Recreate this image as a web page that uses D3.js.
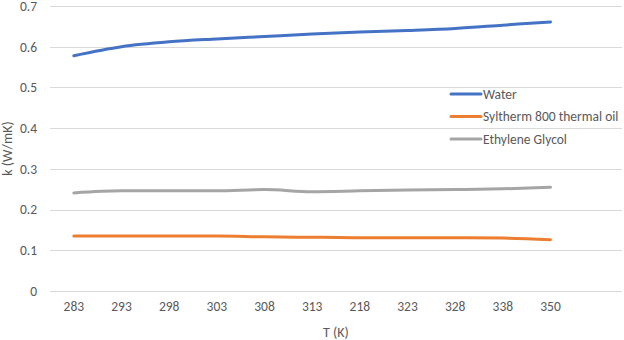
<!DOCTYPE html>
<html>
<head>
    <title>Thermal conductivity</title>
    <script src="https://cdnjs.cloudflare.com/ajax/libs/d3/7.8.5/d3.min.js"></script>
    <style>
    body { margin:0; background:#fff; }
    svg text { font-family:Carlito, Calibri, "Liberation Sans", sans-serif; fill:#595959; }
    </style>
</head>
<body>
<div class="chart"></div>
<script>
// category labels (the 12th slot is left empty, as in the original sheet)
var temps = ['283','293','298','303','308','313','218','323','328','338','350',''];

var water    = [0.578,0.600,0.612,0.619,0.625,0.631,0.636,0.640,0.645,0.653,0.661];
var syltherm = [0.135,0.135,0.135,0.135,0.133,0.132,0.131,0.131,0.131,0.130,0.126];
var glycol   = [0.241,0.246,0.246,0.246,0.249,0.244,0.246,0.248,0.249,0.251,0.255];

var yTicks = [0,0.1,0.2,0.3,0.4,0.5,0.6,0.7];

var seriesNames  = ['Water','Syltherm 800 thermal oil','Ethylene Glycol'];
var seriesColors = ['#4472C4','#ED7D31','#A5A5A5'];

var width = 624, height = 340;
var plotLeft = 50, plotRight = 622, plotTop = 6, plotBottom = 291;

var svg = d3.select('.chart').append('svg')
    .attr('width', width)
    .attr('height', height);

var x = d3.scaleBand().domain(d3.range(temps.length)).range([plotLeft, plotRight]);
var y = d3.scaleLinear().domain([0, 0.7]).range([plotBottom, plotTop]);

// gridlines
svg.append('g')
    .selectAll('line')
    .data(yTicks)
    .enter().append('line')
    .attr('x1', plotLeft).attr('x2', plotRight)
    .attr('y1', function(d) { return Math.round(y(d)) + 0.5; })
    .attr('y2', function(d) { return Math.round(y(d)) + 0.5; })
    .attr('stroke', '#D9D9D9')
    .attr('stroke-width', 1);

// y axis labels
var yAxis = svg.append('g')
    .attr('transform', 'translate(' + plotLeft + ',0)')
    .call(d3.axisLeft(y).tickValues(yTicks).tickSize(0).tickPadding(13)
        .tickFormat(function(d) { return d3.format('')(+d.toFixed(1)); }));
yAxis.select('.domain').remove();
yAxis.selectAll('text').style('font-size', '13.5px');

// x axis labels
var xAxis = svg.append('g')
    .attr('transform', 'translate(0,' + plotBottom + ')')
    .call(d3.axisBottom(x).tickSize(0).tickPadding(10)
        .tickFormat(function(i) { return temps[i]; }));
xAxis.select('.domain').remove();
xAxis.selectAll('text').style('font-size', '13.5px');

// axis titles
svg.append('text')
    .attr('x', (plotLeft + plotRight) / 2)
    .attr('y', 337)
    .attr('text-anchor', 'middle')
    .style('font-size', '14px')
    .text('T (K)');

svg.append('text')
    .attr('transform', 'translate(12,' + (plotTop + plotBottom) / 2 + ') rotate(-90)')
    .attr('text-anchor', 'middle')
    .style('font-size', '14px')
    .text('k (W/mK)');

// lines
var line = d3.line()
    .x(function(d, i) { return x(i) + x.bandwidth() / 2; })
    .y(function(d) { return y(d); })
    .curve(d3.curveMonotoneX);

[water, syltherm, glycol].forEach(function(values, s) {
    svg.append('path')
        .datum(values)
        .attr('d', line)
        .attr('fill', 'none')
        .attr('stroke', seriesColors[s])
        .attr('stroke-width', 3)
        .attr('stroke-linecap', 'round');
});

// legend
var legend = svg.append('g');
seriesNames.forEach(function(name, s) {
    var ly = 94 + s * 22.5;
    legend.append('line')
        .attr('x1', 451).attr('x2', 481)
        .attr('y1', ly).attr('y2', ly)
        .attr('stroke', seriesColors[s])
        .attr('stroke-width', 3)
        .attr('stroke-linecap', 'round');
    legend.append('text')
        .attr('x', 483)
        .attr('y', ly + 4.5)
        .style('font-size', '13.5px')
        .text(name);
});
</script>
</body>
</html>
